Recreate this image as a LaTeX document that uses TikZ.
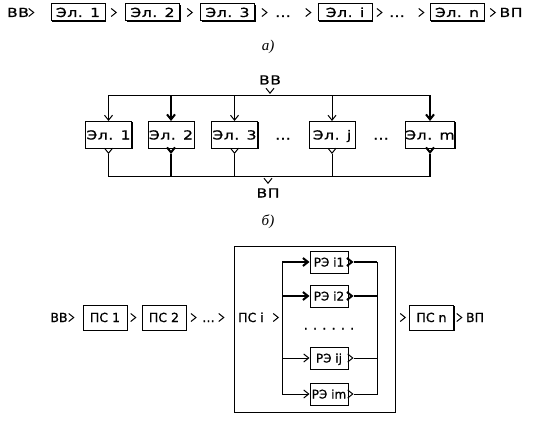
\documentclass[tikz,border=0pt]{standalone}
\usepackage{fontspec}
\newfontfamily\elfont[FakeStretch=1.25,LetterSpace=4,FakeBold=0.8]{DejaVu Sans}
\newfontfamily\psfont[FakeBold=0.8]{DejaVu Sans}
\newfontfamily\capfont{Liberation Serif}
\usepackage{tikz}
\usetikzlibrary{arrows.meta,decorations.markings,shadows}

\begin{document}
\begin{tikzpicture}[x=1pt, y=-1pt, line width=1pt,
  box/.style={draw, fill=white, inner sep=0pt, text height=9pt, text depth=0pt,
    drop shadow={shadow xshift=1pt, shadow yshift=-1pt, opacity=1, fill=black}},
  el/.style={box, font=\elfont\fontsize{12.5}{14}\selectfont, minimum width=54, minimum height=17},
  elv/.style={el, minimum width=46, minimum height=27},
  ps/.style={box, font=\psfont\fontsize{12.5}{14}\selectfont, minimum width=44, minimum height=25},
  re/.style={ps, font=\psfont\fontsize{12}{14}\selectfont, minimum width=38, minimum height=22},
  lab/.style={inner sep=1pt, text height=9pt, text depth=0pt, font=\elfont\fontsize{12.5}{14}\selectfont},
  labc/.style={lab, font=\psfont\fontsize{12.5}{14}\selectfont},
  captxt/.style={font=\capfont\itshape\fontsize{15}{17}\selectfont},
  bus/.style={line cap=rect},
  fat/.style={line width=2pt},
  tip/.style={-{Straight Barb[length=5pt,width=8pt]}},
  chev/.style={decoration={markings, mark=at position -#1 with {\arrow{Straight Barb[length=5pt,width=8pt]}}}, postaction=decorate},
  chev/.default=1pt,
  outp/.style={shorten <=5pt, decoration={markings, mark=at position 5pt with {\arrow{Straight Barb[length=5pt,width=8pt]}}}, postaction=decorate}
]
\useasboundingbox (0,0) rectangle (537,422);
% --- a) serial chain ---
\node[lab] (vva) at (18,12.5) {ВВ};
\node[el]  (ea1) at (78,12.5) {Эл. 1};
\node[el]  (ea2) at (152.5,12.5) {Эл. 2};
\node[el]  (ea3) at (227.5,12.5) {Эл. 3};
\node[lab] (da1) at (283,12.5) {…};
\node[el]  (eai) at (345,12.5) {Эл. i};
\node[lab] (da2) at (397,12.5) {…};
\node[el]  (ean) at (457,12.5) {Эл. n};
\node[lab] (vpa) at (511,12.5) {ВП};
\path[chev=16pt] (vva) -- (ea1);
\path[chev=8pt]  (ea1) -- (ea2);
\path[chev=7pt]  (ea2) -- (ea3);
\path[chev=6pt]  (ea3) -- (da1);
\path[chev=6pt]  (da1) -- (eai);
\path[chev=5pt]  (eai) -- (da2);
\path[chev=5pt]  (da2) -- (ean);
\path[chev=2pt]  (ean) -- (vpa);
\node[captxt] (capa) at (268,47) {а)};
% --- b) parallel elements ---
\node[lab] (vvb) at (270,80) {ВВ};
\coordinate (tl) at (108.5,96);
\coordinate (tr) at (430,96);
\coordinate (bl) at (108.5,176);
\coordinate (br) at (430,176);
\node[elv] (eb1) at (108.5,135) {Эл. 1};
\node[elv] (eb2) at (171,135) {Эл. 2};
\node[elv] (eb3) at (234.5,135) {Эл. 3};
\node[lab] (db1) at (283,135) {…};
\node[elv] (ebj) at (332,135) {Эл. j};
\node[lab] (db2) at (381,135) {…};
\node[elv] (ebm) at (430,135) {Эл. m};
\node[lab] (vpb) at (268,193) {ВП};
\draw[bus] (tl) -- (tr);
\draw[bus] (bl) -- (br);
\path[chev=2pt] (vvb) -- (vvb |- tl);
\draw[tip]     (tl) -- (eb1);
\draw[tip,fat] (eb2 |- tl) -- (eb2);
\draw[tip]     (eb3 |- tl) -- (eb3);
\draw[tip]     (ebj |- tl) -- (ebj);
\draw[tip,fat] (tr) -- (ebm);
\draw[outp]     (eb1) -- (bl);
\draw[outp,fat] (eb2) -- (eb2 |- bl);
\draw[outp]     (eb3) -- (eb3 |- bl);
\draw[outp]     (ebj) -- (ebj |- bl);
\draw[outp,fat] (ebm) -- (br);
\path[chev=3pt] (vpb |- bl) -- (vpb);
\node[captxt] (capb) at (268,222) {б)};
% --- c) mixed structure ---
\node[labc] (vvc) at (59,317.5) {ВВ};
\node[ps]   (pc1) at (105,317.5) {ПС 1};
\node[ps]   (pc2) at (164,317.5) {ПС 2};
\node[labc] (dc)  at (208.5,317.5) {…};
\node[draw, minimum width=161, minimum height=166, inner sep=0pt] (grp) at (314.5,329) {};
\node[labc] (pci) at (251,317.5) {ПС i};
\coordinate (lt) at (282,262);
\coordinate (lb) at (282,394);
\coordinate (rt) at (377,262);
\coordinate (rb) at (377,394);
\node[re]   (r1) at (329,262) {РЭ i1};
\node[re]   (r2) at (329,296) {РЭ i2};
\node[labc] (dr) at (329,325) {. . . . . .};
\node[re]   (rj) at (329,358) {РЭ ij};
\node[re]   (rm) at (329,394) {РЭ im};
\node[ps]   (pcn) at (431.5,317.5) {ПС n};
\node[labc] (vpc) at (475,317.5) {ВП};
\path[chev=8pt] (vvc) -- (pc1);
\path[chev=5pt] (pc1) -- (pc2);
\path[chev=4pt] (pc2) -- (dc);
\path[chev=9pt] (dc) -- (dc -| grp.west);
\path[chev=3pt] (pci) -- (pci -| lt);
\draw[bus] (lt) -- (lb);
\draw[bus] (rt) -- (rb);
\draw[tip,fat] (lt) -- (r1);
\draw[tip,fat] (r2 -| lt) -- (r2);
\draw[tip]     (rj -| lt) -- (rj);
\draw[tip]     (lb) -- (rm);
\draw[outp,fat] (r1) -- (rt);
\draw[outp,fat] (r2) -- (r2 -| rt);
\draw[outp]     (rj) -- (rj -| rt);
\draw[outp]     (rm) -- (rb);
\path[chev=3pt] (pcn -| grp.east) -- (pcn);
\path[chev=2pt] (pcn) -- (vpc);
\end{tikzpicture}
\end{document}
